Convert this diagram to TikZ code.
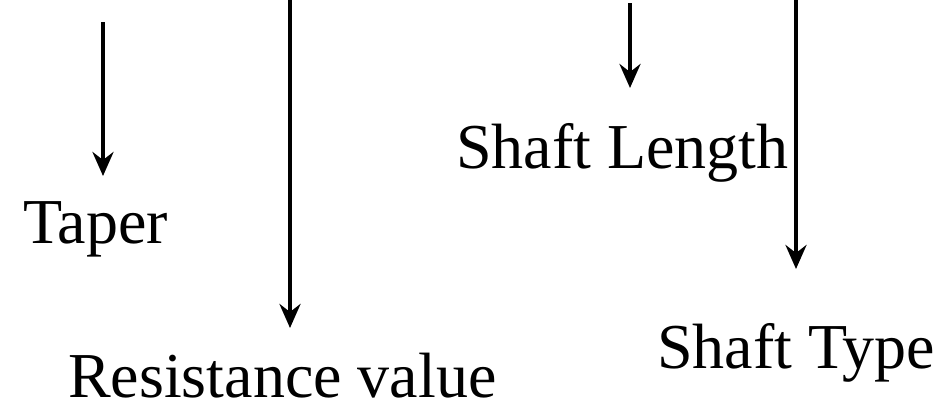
\documentclass[tikz,border=0pt]{standalone}
\usepackage{fontspec}
\setmainfont{Liberation Serif}
\usetikzlibrary{arrows.meta}
\begin{document}
\begin{tikzpicture}[x=1pt,y=-1pt,
  lbl/.style={inner sep=0pt,anchor=base west,font=\fontsize{64}{76}\selectfont},
  arr/.style={line width=4.5pt,-{Stealth[length=24pt,width=21pt,inset=8pt]}}]
\useasboundingbox (0,0) rectangle (945,410);
\node[lbl] (taper) at (23,243) {Taper};
\node[lbl] (res) at (68,397) {Resistance value};
\node[lbl] (slen) at (456,168) {Shaft Length};
\node[lbl] (stype) at (657,368) {Shaft Type};
\coordinate (a1s) at (103,22);  \coordinate (a1e) at (103,176);
\coordinate (a2s) at (290,0);   \coordinate (a2e) at (290,328);
\coordinate (a3s) at (630,3);   \coordinate (a3e) at (630,88);
\coordinate (a4s) at (796,0);   \coordinate (a4e) at (796,269);
\draw[arr] (a1s) -- (a1e);
\draw[arr] (a2s) -- (a2e);
\draw[arr] (a3s) -- (a3e);
\draw[arr] (a4s) -- (a4e);
\end{tikzpicture}
\end{document}
